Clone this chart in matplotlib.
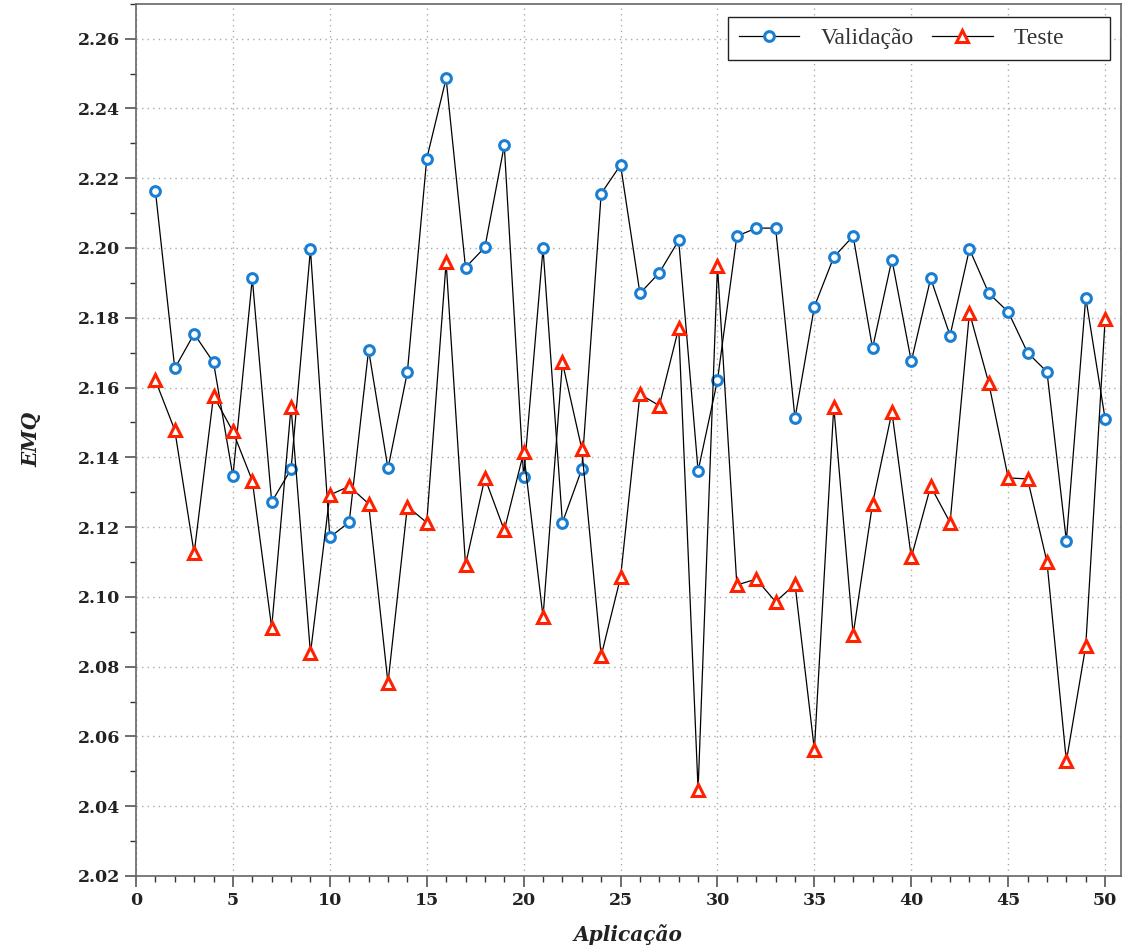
import matplotlib
matplotlib.use("Agg")
import matplotlib.pyplot as plt
from matplotlib.ticker import MultipleLocator, FormatStrFormatter
import numpy as np

# valores
aplicacao = np.arange(1, 51)
validacao = [2.2164, 2.1655, 2.1754, 2.1672, 2.1346, 2.1913, 2.1272, 2.1366, 2.1996, 2.1171,
             2.1214, 2.1708, 2.1368, 2.1644, 2.2256, 2.2486, 2.1944, 2.2002, 2.2294, 2.1343,
             2.1999, 2.1213, 2.1366, 2.2156, 2.2238, 2.1870, 2.1929, 2.2022, 2.1361, 2.1621,
             2.2034, 2.2057, 2.2057, 2.1512, 2.1832, 2.1974, 2.2034, 2.1713, 2.1967, 2.1675,
             2.1913, 2.1749, 2.1997, 2.1870, 2.1817, 2.1700, 2.1645, 2.1161, 2.1858, 2.1510]
teste = [2.1621, 2.1478, 2.1125, 2.1576, 2.1474, 2.1333, 2.0912, 2.1545, 2.0838, 2.1292,
         2.1317, 2.1267, 2.0753, 2.1259, 2.1213, 2.1959, 2.1092, 2.1341, 2.1191, 2.1414,
         2.0943, 2.1672, 2.1424, 2.0831, 2.1056, 2.1581, 2.1548, 2.1771, 2.0446, 2.1949,
         2.1034, 2.1051, 2.0986, 2.1036, 2.0562, 2.1545, 2.0892, 2.1267, 2.1530, 2.1113,
         2.1317, 2.1213, 2.1815, 2.1612, 2.1341, 2.1338, 2.1100, 2.0529, 2.0859, 2.1796]

fig = plt.figure(figsize=(11.24, 9.48), dpi=100)
ax = fig.add_axes([0.121, 0.076, 0.876, 0.920])

ax.plot(aplicacao, validacao, color="black", lw=0.9, marker="o", ms=7,
        mfc="white", mec="#1a7fd4", mew=2.2, label="Validação", zorder=3)
# espaco no fim para a coluna ficar larga como no original
ax.plot(aplicacao, teste, color="black", lw=0.9, marker="^", ms=8.5,
        mfc="white", mec="#ff2200", mew=2.2, label="Teste\u2003\u2002", zorder=3)

ax.set_xlim(0, 50.8)
ax.set_ylim(2.02, 2.27)
ax.xaxis.set_major_locator(MultipleLocator(5))
ax.xaxis.set_minor_locator(MultipleLocator(1))
ax.yaxis.set_major_locator(MultipleLocator(0.02))
ax.yaxis.set_minor_locator(MultipleLocator(0.01))
ax.yaxis.set_major_formatter(FormatStrFormatter("%.2f"))

ax.grid(True, which="major", linestyle=(0, (1, 3)), color="#aaaaaa", lw=1.0)
ax.tick_params(which="major", direction="out", length=8, width=1.2, color="#555555")
ax.tick_params(which="minor", direction="out", length=4, width=1, color="#333333")
for sp in ax.spines.values():
    sp.set_color("#666666")
    sp.set_linewidth(1.2)

for lab in ax.get_xticklabels() + ax.get_yticklabels():
    lab.set_fontfamily("DejaVu Serif")
    lab.set_fontweight("bold")
    lab.set_fontsize(12.5)
    lab.set_color("#222222")

ax.set_xlabel("Aplicação", family="DejaVu Serif", fontsize=14.5, fontweight="bold",
              style="italic", color="#222222", labelpad=11)
ax.set_ylabel("EMQ", family="DejaVu Serif", fontsize=14.5, fontweight="bold",
              style="italic", color="#222222", labelpad=26)

leg = ax.legend(loc="upper right", ncol=2, handlelength=2.55, columnspacing=0.8,
                handletextpad=0.9, borderaxespad=0,
                prop={"family": "Liberation Serif", "size": 17},
                fancybox=False, framealpha=1, edgecolor="#222222",
                bbox_to_anchor=(0.9888, 0.985), borderpad=0.45)
for t in leg.get_texts():
    t.set_color("#333333")
leg.get_frame().set_linewidth(1.0)

fig.savefig("out.png", dpi=100)
